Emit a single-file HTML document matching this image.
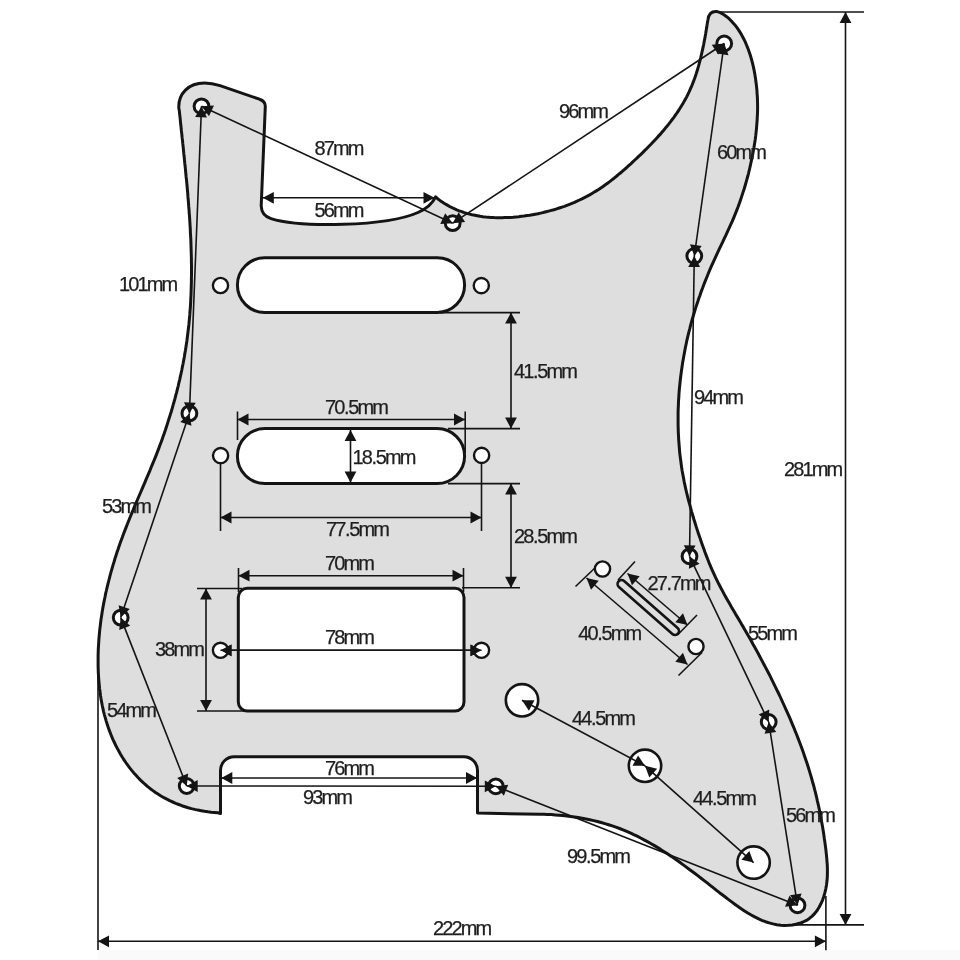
<!DOCTYPE html>
<html><head><meta charset="utf-8"><title>Pickguard dimensions</title>
<style>
html,body{margin:0;padding:0;background:#fff;}
svg{display:block;will-change:transform;filter:grayscale(1);}
text{font-family:"Liberation Sans",sans-serif;font-size:20px;letter-spacing:-1.9px;fill:#1e1e1e;stroke:#1e1e1e;stroke-width:0.25px;}
</style></head><body>
<svg width="960" height="960" viewBox="0 0 960 960">
<rect width="960" height="960" fill="#fff"/>
<rect x="98" y="950.5" width="862" height="9.5" fill="#fafafa"/>
<path d="M 178.8 108 C 178.2 93.5 188.5 83 204.5 83 C 210 83 215 84 220 85.6 L 259.5 99.2 Q 265.4 101 265.3 106.5 L 261.2 206 Q 261.5 215.5 271 218.6 C 300 227.5 385 227 418 212.5 Q 431 206.5 435.6 196.8 L 437.6 198.7 L 439.9 200.4 L 442.2 202.0 L 444.5 203.5 L 446.9 204.9 L 449.3 206.3 L 451.7 207.5 L 454.2 208.7 L 456.7 209.8 L 459.2 210.8 L 461.8 211.7 L 464.3 212.6 L 466.9 213.4 L 469.5 214.1 L 472.2 214.8 L 474.8 215.3 L 477.5 215.8 L 480.2 216.3 L 482.9 216.7 L 485.6 217.0 L 488.3 217.2 L 491.1 217.4 L 493.8 217.6 L 496.6 217.7 L 499.3 217.7 L 502.1 217.7 L 504.9 217.6 L 507.6 217.5 L 510.4 217.4 L 513.2 217.2 L 516.0 216.9 L 518.7 216.7 L 521.5 216.3 L 524.2 216.0 L 527.0 215.6 L 529.7 215.2 L 532.5 214.7 L 535.2 214.2 L 537.9 213.7 L 540.6 213.1 L 543.3 212.5 L 546.0 211.8 L 548.7 211.1 L 551.3 210.4 L 554.0 209.7 L 556.6 208.9 L 559.2 208.0 L 561.8 207.2 L 564.4 206.3 L 566.9 205.3 L 569.5 204.3 L 572.0 203.3 L 574.5 202.3 L 577.0 201.2 L 579.5 200.0 L 582.0 198.8 L 584.4 197.6 L 586.8 196.4 L 589.2 195.1 L 591.6 193.7 L 593.9 192.3 L 596.3 190.9 L 598.6 189.5 L 600.8 188.0 L 603.1 186.4 L 605.3 184.8 L 607.5 183.2 L 609.7 181.6 L 611.9 179.9 L 614.1 178.2 L 616.2 176.5 L 618.3 174.7 L 620.4 173.0 L 622.5 171.2 L 624.6 169.3 L 626.7 167.5 L 628.7 165.6 L 630.8 163.8 L 632.8 161.9 L 634.8 160.0 L 636.9 158.1 L 638.9 156.2 L 640.9 154.3 L 642.9 152.4 L 644.8 150.4 L 646.8 148.5 L 648.7 146.5 L 650.7 144.5 L 652.6 142.5 L 654.5 140.5 L 656.4 138.5 L 658.2 136.4 L 660.1 134.4 L 661.9 132.3 L 663.7 130.2 L 665.4 128.1 L 667.2 126.0 L 668.9 123.9 L 670.6 121.7 L 672.2 119.5 L 673.9 117.3 L 675.4 115.1 L 677.0 112.9 L 678.5 110.6 L 680.0 108.3 L 681.4 106.0 L 682.8 103.7 L 684.2 101.3 L 685.5 99.0 L 686.8 96.6 L 688.0 94.1 L 689.2 91.7 L 690.3 89.2 L 691.4 86.7 L 692.4 84.2 L 693.4 81.6 L 694.4 79.0 L 695.3 76.4 L 696.2 73.8 L 697.0 71.2 L 697.8 68.6 L 698.6 65.9 L 699.3 63.2 L 700.0 60.6 L 700.7 57.9 L 701.3 55.2 L 701.9 52.5 L 702.5 49.8 L 703.1 47.1 L 703.7 44.3 L 704.2 41.6 L 704.7 38.9 L 705.2 36.2 L 705.7 33.5 L 706.1 30.8 L 706.6 28.1 L 707.0 25.4 L 707.4 22.7 L 707.9 20.0 Q 708.8 11 716.5 11.4 L 720.3 12.6 L 723.6 14.5 L 726.7 16.7 L 729.6 19.2 L 732.2 21.9 L 734.7 24.7 L 737.0 27.7 L 739.2 30.9 L 741.2 34.1 L 743.0 37.5 L 744.8 40.9 L 746.3 44.5 L 747.8 48.1 L 749.1 51.8 L 750.4 55.5 L 751.5 59.3 L 752.5 63.1 L 753.4 66.9 L 754.2 70.7 L 754.9 74.6 L 755.5 78.4 L 756.0 82.3 L 756.5 86.1 L 756.9 90.0 L 757.1 93.8 L 757.4 97.7 L 757.5 101.5 L 757.6 105.3 L 757.6 109.2 L 757.5 113.0 L 757.3 116.8 L 757.1 120.7 L 756.8 124.5 L 756.5 128.3 L 756.1 132.1 L 755.7 135.9 L 755.2 139.7 L 754.6 143.5 L 754.0 147.3 L 753.3 151.1 L 752.6 154.9 L 751.8 158.7 L 751.0 162.5 L 750.2 166.2 L 749.3 170.0 L 748.4 173.8 L 747.4 177.5 L 746.4 181.2 L 745.3 185.0 L 744.2 188.7 L 743.0 192.4 L 741.8 196.1 L 740.6 199.7 L 739.3 203.4 L 738.0 207.0 L 736.6 210.6 L 735.2 214.2 L 733.7 217.8 L 732.2 221.4 L 730.6 224.9 L 729.0 228.4 L 727.4 231.9 L 725.8 235.4 L 724.1 238.9 L 722.5 242.4 L 720.8 245.9 L 719.1 249.4 L 717.5 252.9 L 715.9 256.4 L 714.3 259.9 L 712.7 263.4 L 711.1 266.9 L 709.6 270.4 L 708.1 274.0 L 706.7 277.5 L 705.2 281.1 L 703.8 284.7 L 702.5 288.3 L 701.1 291.9 L 699.9 295.5 L 698.6 299.1 L 697.4 302.8 L 696.2 306.4 L 695.0 310.1 L 693.9 313.8 L 692.8 317.5 L 691.7 321.2 L 690.7 324.9 L 689.8 328.7 L 688.8 332.4 L 687.9 336.2 L 687.0 339.9 L 686.2 343.7 L 685.4 347.5 L 684.7 351.3 L 684.0 355.1 L 683.3 358.9 L 682.6 362.7 L 682.1 366.6 L 681.5 370.4 L 681.0 374.2 L 680.5 378.1 L 680.1 381.9 L 679.7 385.8 L 679.3 389.6 L 679.0 393.5 L 678.8 397.3 L 678.5 401.2 L 678.4 405.0 L 678.2 408.9 L 678.1 412.8 L 678.1 416.6 L 678.1 420.5 L 678.1 424.3 L 678.2 428.2 L 678.3 432.1 L 678.5 435.9 L 678.7 439.8 L 679.0 443.6 L 679.3 447.4 L 679.6 451.3 L 680.0 455.1 L 680.5 458.9 L 681.0 462.8 L 681.5 466.6 L 682.1 470.4 L 682.8 474.2 L 683.5 477.9 L 684.2 481.7 L 685.0 485.5 L 685.8 489.2 L 686.7 493.0 L 687.6 496.7 L 688.6 500.5 L 689.6 504.2 L 690.6 507.9 L 691.6 511.6 L 692.7 515.3 L 693.8 519.0 L 695.0 522.7 L 696.1 526.4 L 697.3 530.1 L 698.5 533.7 L 699.8 537.4 L 701.0 541.1 L 702.3 544.7 L 703.6 548.3 L 704.9 552.0 L 706.3 555.6 L 707.7 559.2 L 709.1 562.8 L 710.6 566.3 L 712.1 569.9 L 713.7 573.4 L 715.3 576.9 L 717.0 580.4 L 718.7 583.8 L 720.5 587.2 L 722.3 590.6 L 724.1 594.0 L 726.0 597.4 L 727.9 600.8 L 729.8 604.1 L 731.7 607.4 L 733.7 610.8 L 735.6 614.1 L 737.6 617.4 L 739.6 620.8 L 741.5 624.1 L 743.5 627.4 L 745.4 630.8 L 747.3 634.1 L 749.3 637.5 L 751.2 640.8 L 753.0 644.2 L 754.9 647.5 L 756.8 650.9 L 758.6 654.3 L 760.4 657.7 L 762.2 661.1 L 764.0 664.5 L 765.8 667.9 L 767.6 671.3 L 769.4 674.7 L 771.1 678.2 L 772.8 681.6 L 774.5 685.1 L 776.2 688.6 L 777.9 692.0 L 779.6 695.5 L 781.2 699.0 L 782.8 702.5 L 784.4 706.0 L 786.0 709.6 L 787.6 713.1 L 789.2 716.6 L 790.7 720.2 L 792.2 723.8 L 793.7 727.3 L 795.1 730.9 L 796.6 734.5 L 798.0 738.1 L 799.4 741.7 L 800.7 745.3 L 802.1 749.0 L 803.4 752.6 L 804.6 756.2 L 805.9 759.9 L 807.1 763.5 L 808.3 767.2 L 809.4 770.9 L 810.5 774.6 L 811.6 778.3 L 812.6 782.0 L 813.7 785.7 L 814.6 789.4 L 815.6 793.1 L 816.5 796.8 L 817.3 800.6 L 818.2 804.3 L 819.0 808.1 L 819.8 811.8 L 820.5 815.6 L 821.2 819.4 L 821.9 823.2 L 822.6 827.0 L 823.2 830.8 L 823.8 834.6 L 824.3 838.4 L 824.9 842.2 L 825.4 846.1 L 825.9 849.9 L 826.3 853.8 L 826.7 857.6 L 827.0 861.5 L 827.3 865.4 L 827.4 869.3 L 827.4 873.2 L 827.3 877.1 L 827.0 881.0 L 826.5 884.9 L 825.8 888.8 L 824.9 892.7 L 823.8 896.5 L 822.5 900.3 L 820.9 903.8 L 819.1 907.3 L 817.1 910.5 L 814.8 913.4 L 812.2 916.1 L 809.4 918.4 L 806.4 920.4 L 803.1 922.0 L 799.6 923.3 L 796.0 924.3 L 792.3 925.0 L 788.5 925.3 L 784.6 925.4 L 780.7 925.2 L 776.8 924.7 L 773.0 923.9 L 769.2 922.9 L 765.5 921.7 L 761.8 920.3 L 758.2 918.7 L 754.7 916.9 L 751.2 915.0 L 747.8 913.0 L 744.5 910.9 L 741.2 908.7 L 738.0 906.5 L 734.8 904.2 L 731.7 901.9 L 728.6 899.6 L 725.6 897.3 L 722.6 895.0 L 719.5 892.7 L 716.5 890.3 L 713.5 887.9 L 710.5 885.6 L 707.5 883.2 L 704.5 880.9 L 701.4 878.5 L 698.4 876.1 L 695.3 873.8 L 692.2 871.5 L 689.1 869.2 L 686.0 866.9 L 682.9 864.6 L 679.8 862.3 L 676.6 860.1 L 673.5 857.9 L 670.3 855.7 L 667.1 853.6 L 663.8 851.5 L 660.6 849.4 L 657.3 847.4 L 654.0 845.4 L 650.7 843.5 L 647.4 841.6 L 644.0 839.8 L 640.6 838.0 L 637.2 836.2 L 633.7 834.6 L 630.2 832.9 L 626.7 831.4 L 623.1 829.9 L 619.6 828.5 L 615.9 827.2 L 612.3 825.9 L 608.6 824.7 L 604.9 823.6 L 601.1 822.5 L 597.4 821.5 L 593.6 820.6 L 589.8 819.7 L 586.0 819.0 L 582.1 818.2 L 578.3 817.6 L 574.4 817.0 L 570.6 816.4 L 566.8 816.0 L 562.9 815.5 L 559.1 815.2 L 555.2 814.9 L 551.4 814.6 L 547.6 814.4 L 543.8 814.3 L 540.1 814.2 L 477.5 813.1 L 477.5 770.5 A 13.7 13.7 0 0 0 463.8 756.8 L 234.2 756.8 A 13.7 13.7 0 0 0 220.5 770.5 L 220.5 813.5 L 217.8 812.8 L 214.4 812.5 L 211.1 812.2 L 207.8 811.8 L 204.5 811.3 L 201.2 810.7 L 197.9 810.1 L 194.6 809.4 L 191.4 808.6 L 188.2 807.7 L 185.0 806.7 L 181.9 805.7 L 178.8 804.5 L 175.7 803.3 L 172.7 802.0 L 169.7 800.7 L 166.8 799.2 L 163.9 797.7 L 161.0 796.0 L 158.3 794.3 L 155.5 792.5 L 152.9 790.6 L 150.3 788.7 L 147.7 786.6 L 145.3 784.5 L 142.9 782.3 L 140.5 780.1 L 138.2 777.7 L 136.0 775.3 L 133.8 772.9 L 131.7 770.4 L 129.7 767.8 L 127.7 765.2 L 125.8 762.5 L 124.0 759.8 L 122.2 757.0 L 120.5 754.2 L 118.9 751.3 L 117.3 748.4 L 115.8 745.5 L 114.4 742.5 L 113.0 739.6 L 111.7 736.5 L 110.5 733.5 L 109.3 730.4 L 108.2 727.3 L 107.2 724.2 L 106.2 721.1 L 105.3 717.9 L 104.4 714.8 L 103.6 711.6 L 102.9 708.4 L 102.2 705.2 L 101.6 701.9 L 101.0 698.7 L 100.5 695.4 L 100.1 692.1 L 99.6 688.9 L 99.3 685.6 L 99.0 682.3 L 98.7 679.0 L 98.5 675.7 L 98.3 672.3 L 98.2 669.0 L 98.1 665.7 L 98.1 662.4 L 98.1 659.1 L 98.1 655.8 L 98.2 652.5 L 98.3 649.1 L 98.5 645.8 L 98.7 642.5 L 98.9 639.3 L 99.2 636.0 L 99.5 632.7 L 99.8 629.4 L 100.2 626.1 L 100.6 622.9 L 101.0 619.6 L 101.5 616.4 L 102.0 613.1 L 102.5 609.9 L 103.1 606.6 L 103.7 603.4 L 104.3 600.2 L 105.0 597.0 L 105.6 593.7 L 106.4 590.5 L 107.1 587.3 L 107.9 584.1 L 108.7 581.0 L 109.5 577.8 L 110.3 574.6 L 111.2 571.4 L 112.1 568.3 L 113.0 565.1 L 114.0 562.0 L 114.9 558.8 L 115.9 555.7 L 116.9 552.6 L 118.0 549.5 L 119.0 546.4 L 120.1 543.3 L 121.2 540.2 L 122.4 537.1 L 123.5 534.0 L 124.7 530.9 L 125.9 527.9 L 127.1 524.8 L 128.3 521.8 L 129.5 518.7 L 130.7 515.7 L 132.0 512.6 L 133.3 509.6 L 134.5 506.6 L 135.8 503.5 L 137.1 500.5 L 138.4 497.5 L 139.7 494.5 L 141.0 491.5 L 142.3 488.4 L 143.6 485.4 L 144.9 482.4 L 146.1 479.4 L 147.4 476.4 L 148.7 473.3 L 150.0 470.3 L 151.2 467.3 L 152.5 464.2 L 153.7 461.2 L 155.0 458.1 L 156.2 455.1 L 157.4 452.0 L 158.6 448.9 L 159.7 445.8 L 160.9 442.7 L 162.0 439.7 L 163.1 436.6 L 164.2 433.4 L 165.3 430.3 L 166.3 427.2 L 167.3 424.1 L 168.3 420.9 L 169.3 417.8 L 170.3 414.6 L 171.3 411.5 L 172.2 408.3 L 173.1 405.1 L 174.0 402.0 L 174.9 398.8 L 175.7 395.6 L 176.6 392.4 L 177.4 389.2 L 178.2 386.0 L 178.9 382.8 L 179.7 379.6 L 180.4 376.4 L 181.1 373.2 L 181.8 370.0 L 182.4 366.7 L 183.1 363.5 L 183.7 360.3 L 184.3 357.0 L 184.8 353.8 L 185.4 350.5 L 185.9 347.3 L 186.4 344.0 L 186.9 340.8 L 187.3 337.5 L 187.7 334.3 L 188.1 331.0 L 188.5 327.8 L 188.9 324.5 L 189.2 321.2 L 189.5 318.0 L 189.8 314.7 L 190.0 311.4 L 190.3 308.1 L 190.5 304.9 L 190.7 301.6 L 190.8 298.3 L 191.0 295.0 L 191.1 291.8 L 191.2 288.5 L 191.3 285.2 L 191.4 281.9 L 191.4 278.6 L 191.5 275.3 L 191.5 272.1 L 191.5 268.8 L 191.5 265.5 L 191.4 262.2 L 191.4 258.9 L 191.3 255.6 L 191.2 252.3 L 191.1 249.0 L 191.0 245.7 L 190.9 242.5 L 190.8 239.2 L 190.6 235.9 L 190.4 232.6 L 190.3 229.3 L 190.1 226.0 L 189.9 222.7 L 189.7 219.4 L 189.5 216.1 L 189.2 212.8 L 189.0 209.5 L 188.7 206.2 L 188.5 203.0 L 188.2 199.7 L 187.9 196.4 L 187.7 193.1 L 187.4 189.8 L 187.1 186.5 L 186.8 183.2 L 186.5 179.9 L 186.1 176.7 L 185.8 173.4 L 185.5 170.1 L 185.2 166.8 L 184.8 163.5 L 184.5 160.3 L 184.2 157.0 L 183.8 153.7 L 183.5 150.5 L 183.2 147.2 L 182.8 143.9 L 182.5 140.6 L 182.1 137.4 L 181.8 134.1 L 181.4 130.9 L 181.1 127.6 L 180.7 124.3 L 180.4 121.1 L 180.1 117.8 L 179.7 114.6 L 179.4 111.3 L 178.8 108.0 Z" fill="#dedede" stroke="#141414" stroke-width="3.0" stroke-linejoin="round"/>
<rect x="237.4" y="257.8" width="227.20000000000002" height="54.599999999999966" rx="27.3" ry="27.3" fill="#fff" stroke="#141414" stroke-width="3.0"/>
<rect x="237.4" y="428.6" width="227.20000000000002" height="55.0" rx="27.5" ry="27.5" fill="#fff" stroke="#141414" stroke-width="3.0"/>
<rect x="238.3" y="588.3" width="225.7" height="122.70000000000005" rx="9" ry="9" fill="#fff" stroke="#141414" stroke-width="3.0"/>
<line x1="621.5" y1="584" x2="675" y2="631" stroke="#141414" stroke-width="10.5" stroke-linecap="round"/>
<line x1="621.5" y1="584" x2="675" y2="631" stroke="#dedede" stroke-width="5.3" stroke-linecap="round"/>
<line x1="440" y1="312.6" x2="520" y2="312.6" stroke="#141414" stroke-width="1.6"/>
<line x1="448" y1="428.6" x2="520" y2="428.6" stroke="#141414" stroke-width="1.6"/>
<line x1="448" y1="483.6" x2="520" y2="483.6" stroke="#141414" stroke-width="1.6"/>
<line x1="462" y1="587.8" x2="520" y2="587.8" stroke="#141414" stroke-width="1.6"/>
<line x1="237.5" y1="411.5" x2="237.5" y2="440" stroke="#141414" stroke-width="1.6"/>
<line x1="465.2" y1="411.5" x2="465.2" y2="453" stroke="#141414" stroke-width="1.6"/>
<line x1="220.5" y1="462" x2="220.5" y2="531" stroke="#141414" stroke-width="1.6"/>
<line x1="481.5" y1="462" x2="481.5" y2="531" stroke="#141414" stroke-width="1.6"/>
<line x1="238.5" y1="568" x2="238.5" y2="592" stroke="#141414" stroke-width="1.6"/>
<line x1="463.5" y1="568" x2="463.5" y2="592" stroke="#141414" stroke-width="1.6"/>
<line x1="197" y1="588.5" x2="242" y2="588.5" stroke="#141414" stroke-width="1.6"/>
<line x1="197" y1="711" x2="245" y2="711" stroke="#141414" stroke-width="1.6"/>
<line x1="715" y1="12" x2="864" y2="12" stroke="#141414" stroke-width="1.6"/>
<line x1="795" y1="924.9" x2="864" y2="924.9" stroke="#141414" stroke-width="1.6"/>
<line x1="98" y1="650" x2="98" y2="950" stroke="#141414" stroke-width="1.6"/>
<line x1="825.9" y1="896" x2="825.9" y2="950.3" stroke="#141414" stroke-width="1.6"/>
<line x1="635" y1="561.5" x2="618" y2="580" stroke="#141414" stroke-width="1.6"/>
<line x1="697" y1="615" x2="677.5" y2="635" stroke="#141414" stroke-width="1.6"/>
<line x1="597" y1="566" x2="575.5" y2="586.5" stroke="#141414" stroke-width="1.6"/>
<line x1="702" y1="652.5" x2="678.5" y2="675.5" stroke="#141414" stroke-width="1.6"/>
<line x1="262.8" y1="197.8" x2="434.5" y2="197.8" stroke="#141414" stroke-width="1.6"/>
<path d="M262.80 197.80 L273.80 191.90 L273.80 203.70 Z" fill="#141414"/>
<path d="M434.50 197.80 L423.50 203.70 L423.50 191.90 Z" fill="#141414"/>
<line x1="511" y1="312.6" x2="511" y2="428.6" stroke="#141414" stroke-width="1.6"/>
<path d="M511.00 312.60 L516.90 323.60 L505.10 323.60 Z" fill="#141414"/>
<path d="M511.00 428.60 L505.10 417.60 L516.90 417.60 Z" fill="#141414"/>
<line x1="237.5" y1="419.5" x2="465" y2="419.5" stroke="#141414" stroke-width="1.6"/>
<path d="M237.50 419.50 L248.50 413.60 L248.50 425.40 Z" fill="#141414"/>
<path d="M465.00 419.50 L454.00 425.40 L454.00 413.60 Z" fill="#141414"/>
<line x1="350.5" y1="430" x2="350.5" y2="482.5" stroke="#141414" stroke-width="1.6"/>
<path d="M350.50 430.00 L356.40 441.00 L344.60 441.00 Z" fill="#141414"/>
<path d="M350.50 482.50 L344.60 471.50 L356.40 471.50 Z" fill="#141414"/>
<line x1="220.5" y1="517.5" x2="481.5" y2="517.5" stroke="#141414" stroke-width="1.6"/>
<path d="M220.50 517.50 L231.50 511.60 L231.50 523.40 Z" fill="#141414"/>
<path d="M481.50 517.50 L470.50 523.40 L470.50 511.60 Z" fill="#141414"/>
<line x1="511" y1="483.6" x2="511" y2="587.8" stroke="#141414" stroke-width="1.6"/>
<path d="M511.00 483.60 L516.90 494.60 L505.10 494.60 Z" fill="#141414"/>
<path d="M511.00 587.80 L505.10 576.80 L516.90 576.80 Z" fill="#141414"/>
<line x1="238.5" y1="575.7" x2="463.5" y2="575.7" stroke="#141414" stroke-width="1.6"/>
<path d="M238.50 575.70 L249.50 569.80 L249.50 581.60 Z" fill="#141414"/>
<path d="M463.50 575.70 L452.50 581.60 L452.50 569.80 Z" fill="#141414"/>
<line x1="220.5" y1="650.3" x2="481.5" y2="650.3" stroke="#141414" stroke-width="1.6"/>
<path d="M220.50 650.30 L231.50 644.40 L231.50 656.20 Z" fill="#141414"/>
<path d="M481.50 650.30 L470.50 656.20 L470.50 644.40 Z" fill="#141414"/>
<line x1="206" y1="588.5" x2="206" y2="711" stroke="#141414" stroke-width="1.6"/>
<path d="M206.00 588.50 L211.90 599.50 L200.10 599.50 Z" fill="#141414"/>
<path d="M206.00 711.00 L200.10 700.00 L211.90 700.00 Z" fill="#141414"/>
<line x1="221.3" y1="778" x2="477" y2="778" stroke="#141414" stroke-width="1.6"/>
<path d="M221.30 778.00 L232.30 772.10 L232.30 783.90 Z" fill="#141414"/>
<path d="M477.00 778.00 L466.00 783.90 L466.00 772.10 Z" fill="#141414"/>
<line x1="627.5" y1="573.5" x2="687.5" y2="625" stroke="#141414" stroke-width="1.6"/>
<path d="M627.50 573.50 L639.69 576.19 L632.00 585.14 Z" fill="#141414"/>
<path d="M687.50 625.00 L675.31 622.31 L683.00 613.36 Z" fill="#141414"/>
<line x1="586.5" y1="578" x2="687.5" y2="664.5" stroke="#141414" stroke-width="1.6"/>
<path d="M586.50 578.00 L598.69 580.67 L591.02 589.64 Z" fill="#141414"/>
<path d="M687.50 664.50 L675.31 661.83 L682.98 652.86 Z" fill="#141414"/>
<line x1="845.5" y1="12" x2="845.5" y2="924.9" stroke="#141414" stroke-width="1.6"/>
<path d="M845.50 12.00 L851.40 23.00 L839.60 23.00 Z" fill="#141414"/>
<path d="M845.50 924.90 L839.60 913.90 L851.40 913.90 Z" fill="#141414"/>
<line x1="98" y1="941.3" x2="825.9" y2="941.3" stroke="#141414" stroke-width="1.6"/>
<path d="M98.00 941.30 L109.00 935.40 L109.00 947.20 Z" fill="#141414"/>
<path d="M825.90 941.30 L814.90 947.20 L814.90 935.40 Z" fill="#141414"/>
<circle cx="201.5" cy="106.3" r="7.4" fill="#fff" stroke="#141414" stroke-width="3.0"/>
<circle cx="452.7" cy="223.2" r="7.4" fill="#fff" stroke="#141414" stroke-width="3.0"/>
<circle cx="724.2" cy="43.5" r="7.4" fill="#fff" stroke="#141414" stroke-width="3.0"/>
<circle cx="694.3" cy="256" r="7.4" fill="#fff" stroke="#141414" stroke-width="3.0"/>
<circle cx="189.4" cy="413.4" r="7.4" fill="#fff" stroke="#141414" stroke-width="3.0"/>
<circle cx="120.7" cy="617.6" r="7.4" fill="#fff" stroke="#141414" stroke-width="3.0"/>
<circle cx="186.7" cy="786" r="7.4" fill="#fff" stroke="#141414" stroke-width="3.0"/>
<circle cx="495.8" cy="786.3" r="7.4" fill="#fff" stroke="#141414" stroke-width="3.0"/>
<circle cx="689.5" cy="556.3" r="7.4" fill="#fff" stroke="#141414" stroke-width="3.0"/>
<circle cx="768.7" cy="722" r="7.4" fill="#fff" stroke="#141414" stroke-width="3.0"/>
<circle cx="797.5" cy="905.3" r="7.4" fill="#fff" stroke="#141414" stroke-width="3.0"/>
<circle cx="220.5" cy="285.5" r="7.6" fill="#fff" stroke="#141414" stroke-width="2.4"/>
<circle cx="481.3" cy="285.6" r="7.6" fill="#fff" stroke="#141414" stroke-width="2.4"/>
<circle cx="220.6" cy="455.6" r="7.6" fill="#fff" stroke="#141414" stroke-width="2.4"/>
<circle cx="481.6" cy="455.4" r="7.6" fill="#fff" stroke="#141414" stroke-width="2.4"/>
<circle cx="220.5" cy="650.3" r="7.6" fill="#fff" stroke="#141414" stroke-width="2.4"/>
<circle cx="481.5" cy="650.3" r="7.6" fill="#fff" stroke="#141414" stroke-width="2.4"/>
<circle cx="602.5" cy="569" r="7.6" fill="#fff" stroke="#141414" stroke-width="2.4"/>
<circle cx="696" cy="646.5" r="7.6" fill="#fff" stroke="#141414" stroke-width="2.4"/>
<circle cx="522" cy="700.3" r="16.2" fill="#fff" stroke="#141414" stroke-width="2.6"/>
<circle cx="645" cy="765.8" r="16.2" fill="#fff" stroke="#141414" stroke-width="2.6"/>
<circle cx="753.6" cy="862.6" r="16.2" fill="#fff" stroke="#141414" stroke-width="2.6"/>
<line x1="201.5" y1="106.3" x2="452.7" y2="223.2" stroke="#141414" stroke-width="1.6"/>
<path d="M201.50 106.30 L213.96 105.59 L208.98 116.29 Z" fill="#141414"/>
<path d="M452.70 223.20 L440.24 223.91 L445.22 213.21 Z" fill="#141414"/>
<line x1="452.7" y1="223.2" x2="724.2" y2="43.5" stroke="#141414" stroke-width="1.6"/>
<path d="M452.70 223.20 L458.62 212.21 L465.13 222.05 Z" fill="#141414"/>
<path d="M724.20 43.50 L718.28 54.49 L711.77 44.65 Z" fill="#141414"/>
<line x1="724.2" y1="43.5" x2="694.3" y2="256" stroke="#141414" stroke-width="1.6"/>
<path d="M724.20 43.50 L728.51 55.21 L716.82 53.57 Z" fill="#141414"/>
<path d="M694.30 256.00 L689.99 244.29 L701.68 245.93 Z" fill="#141414"/>
<line x1="694.3" y1="256" x2="689.5" y2="556.3" stroke="#141414" stroke-width="1.6"/>
<path d="M694.30 256.00 L700.02 267.09 L688.22 266.90 Z" fill="#141414"/>
<path d="M689.50 556.30 L683.78 545.21 L695.58 545.40 Z" fill="#141414"/>
<line x1="689.5" y1="556.3" x2="768.7" y2="722" stroke="#141414" stroke-width="1.6"/>
<path d="M689.50 556.30 L699.57 563.68 L688.92 568.77 Z" fill="#141414"/>
<path d="M768.70 722.00 L758.63 714.62 L769.28 709.53 Z" fill="#141414"/>
<line x1="768.7" y1="722" x2="797.5" y2="905.3" stroke="#141414" stroke-width="1.6"/>
<path d="M768.70 722.00 L776.24 731.95 L764.58 733.78 Z" fill="#141414"/>
<path d="M797.50 905.30 L789.96 895.35 L801.62 893.52 Z" fill="#141414"/>
<line x1="495.8" y1="786.3" x2="797.5" y2="905.3" stroke="#141414" stroke-width="1.6"/>
<path d="M495.80 786.30 L508.20 784.85 L503.87 795.82 Z" fill="#141414"/>
<path d="M797.50 905.30 L785.10 906.75 L789.43 895.78 Z" fill="#141414"/>
<line x1="186.7" y1="786" x2="495.8" y2="786.3" stroke="#141414" stroke-width="1.6"/>
<path d="M186.70 786.00 L197.71 780.11 L197.69 791.91 Z" fill="#141414"/>
<path d="M495.80 786.30 L484.79 792.19 L484.81 780.39 Z" fill="#141414"/>
<line x1="120.7" y1="617.6" x2="186.7" y2="786" stroke="#141414" stroke-width="1.6"/>
<path d="M120.70 617.60 L130.21 625.69 L119.22 629.99 Z" fill="#141414"/>
<path d="M186.70 786.00 L177.19 777.91 L188.18 773.61 Z" fill="#141414"/>
<line x1="189.4" y1="413.4" x2="120.7" y2="617.6" stroke="#141414" stroke-width="1.6"/>
<path d="M189.40 413.40 L191.48 425.71 L180.30 421.94 Z" fill="#141414"/>
<path d="M120.70 617.60 L118.62 605.29 L129.80 609.06 Z" fill="#141414"/>
<line x1="201.5" y1="106.3" x2="189.4" y2="413.4" stroke="#141414" stroke-width="1.6"/>
<path d="M201.50 106.30 L206.96 117.52 L195.17 117.06 Z" fill="#141414"/>
<path d="M189.40 413.40 L183.94 402.18 L195.73 402.64 Z" fill="#141414"/>
<line x1="522" y1="700.3" x2="645" y2="765.8" stroke="#141414" stroke-width="1.6"/>
<path d="M522.00 700.30 L534.48 700.26 L528.94 710.68 Z" fill="#141414"/>
<path d="M645.00 765.80 L632.52 765.84 L638.06 755.42 Z" fill="#141414"/>
<line x1="645" y1="765.8" x2="753.6" y2="862.6" stroke="#141414" stroke-width="1.6"/>
<path d="M645.00 765.80 L657.14 768.71 L649.29 777.52 Z" fill="#141414"/>
<path d="M753.60 862.60 L741.46 859.69 L749.31 850.88 Z" fill="#141414"/>
<line x1="220.5" y1="650.3" x2="481.5" y2="650.3" stroke="#141414" stroke-width="1.6"/>
<path d="M220.50 650.30 L231.50 644.40 L231.50 656.20 Z" fill="#141414"/>
<path d="M481.50 650.30 L470.50 656.20 L470.50 644.40 Z" fill="#141414"/>
<g class="t" opacity="0.999">
<text x="314.5" y="155">87mm</text>
<text x="314.5" y="216.8">56mm</text>
<text x="559" y="118">96mm</text>
<text x="717" y="159">60mm</text>
<text x="119" y="291">101mm</text>
<text x="514" y="377.7">41<tspan dx="0.5">.</tspan><tspan dx="0.6">5mm</tspan></text>
<text x="325" y="414">70<tspan dx="0.5">.</tspan><tspan dx="0.6">5mm</tspan></text>
<text x="352.5" y="463.6">18<tspan dx="0.5">.</tspan><tspan dx="0.6">5mm</tspan></text>
<text x="326" y="536">77<tspan dx="0.5">.</tspan><tspan dx="0.6">5mm</tspan></text>
<text x="514" y="543">28<tspan dx="0.5">.</tspan><tspan dx="0.6">5mm</tspan></text>
<text x="325" y="570">70mm</text>
<text x="325" y="644">78mm</text>
<text x="155" y="656">38mm</text>
<text x="102" y="513">53mm</text>
<text x="107" y="717">54mm</text>
<text x="325" y="775">76mm</text>
<text x="303" y="804">93mm</text>
<text x="567" y="863">99<tspan dx="0.5">.</tspan><tspan dx="0.6">5mm</tspan></text>
<text x="572" y="725">44<tspan dx="0.5">.</tspan><tspan dx="0.6">5mm</tspan></text>
<text x="693" y="805">44<tspan dx="0.5">.</tspan><tspan dx="0.6">5mm</tspan></text>
<text x="647.5" y="589.5">27<tspan dx="0.5">.</tspan><tspan dx="0.6">7mm</tspan></text>
<text x="578.2" y="639.5">40<tspan dx="0.5">.</tspan><tspan dx="0.6">5mm</tspan></text>
<text x="748" y="639.5">55mm</text>
<text x="786" y="822">56mm</text>
<text x="694" y="404">94mm</text>
<text x="784" y="475.6">281mm</text>
<text x="433" y="935">222mm</text>
</g>
</svg>
</body></html>
